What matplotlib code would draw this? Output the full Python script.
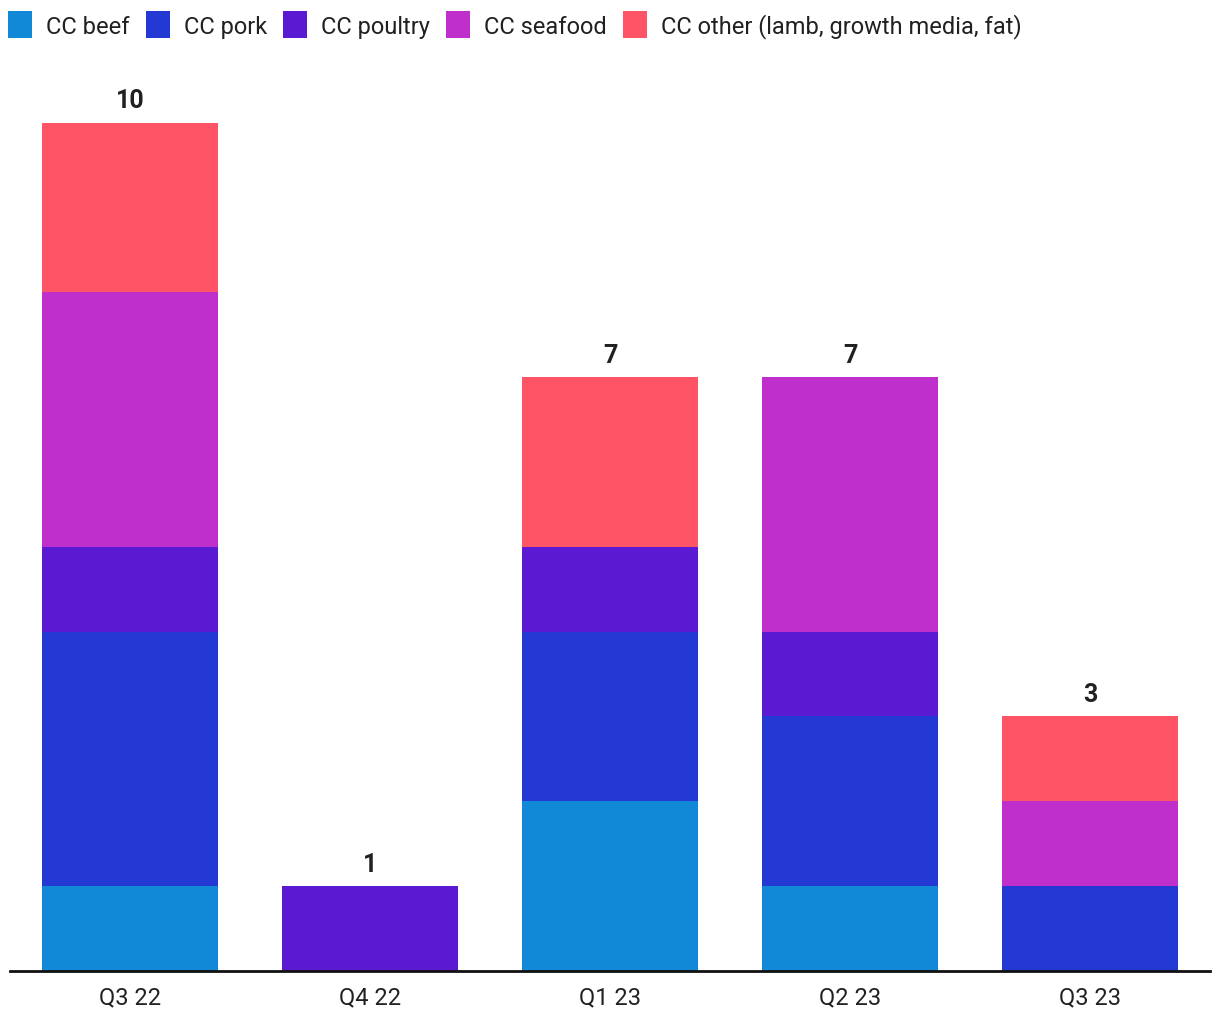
import matplotlib
matplotlib.use("Agg")
import matplotlib.pyplot as plt
import numpy as np

plt.rcParams['font.family'] = ['Roboto', 'DejaVu Sans']

quarters = ["Q3 22", "Q4 22", "Q1 23", "Q2 23", "Q3 23"]
series_names = ["CC beef", "CC pork", "CC poultry", "CC seafood",
                "CC other (lamb, growth media, fat)"]
beef = [1, 0, 2, 1, 0]
pork = [3, 0, 2, 2, 1]
poultry = [1, 1, 1, 1, 0]
seafood = [3, 0, 0, 3, 1]
other = [2, 0, 2, 0, 1]
colors = ["#1289D6", "#2438D4", "#5A1AD2", "#BF2FCB", "#FF5466"]

series = [beef, pork, poultry, seafood, other]

fig = plt.figure(figsize=(12.2, 10.2), dpi=100)
ax = fig.add_axes([10 / 1220, 48 / 1020, 1200 / 1220, 912 / 1020])

x = np.arange(len(quarters))
bottom = np.zeros(len(quarters))
handles = []
for vals, name, col in zip(series, series_names, colors):
    vals = np.array(vals, dtype=float)
    b = ax.bar(x, vals, width=0.733, bottom=bottom, color=col, label=name,
               linewidth=0)
    handles.append(b)
    bottom += vals

for xi, tot in zip(x, bottom):
    ax.text(xi, tot + 0.12, f"{int(tot)}", ha="center", va="bottom",
            fontsize=18, fontweight="bold", color="#212121")

ax.set_xlim(-0.5, len(quarters) - 0.5)
ax.set_ylim(0, 10.75)
ax.set_xticks(x)
ax.set_xticklabels(quarters, fontsize=17, color="#212121")
ax.tick_params(axis="x", length=0, pad=10)
ax.set_yticks([])
for s in ["top", "right", "left"]:
    ax.spines[s].set_visible(False)
ax.spines["bottom"].set_linewidth(2)
ax.spines["bottom"].set_color("#111111")

fig.legend(handles=handles, labels=series_names, loc="upper left",
           bbox_to_anchor=(0.0, 1.0 - 4 / 1020), ncol=5, frameon=False,
           fontsize=17, handlelength=1.02, handleheight=1.4,
           handletextpad=0.59, columnspacing=0.68, borderpad=0.1,
           borderaxespad=0.24, labelcolor="#212121")

fig.savefig("out.png", dpi=100)
